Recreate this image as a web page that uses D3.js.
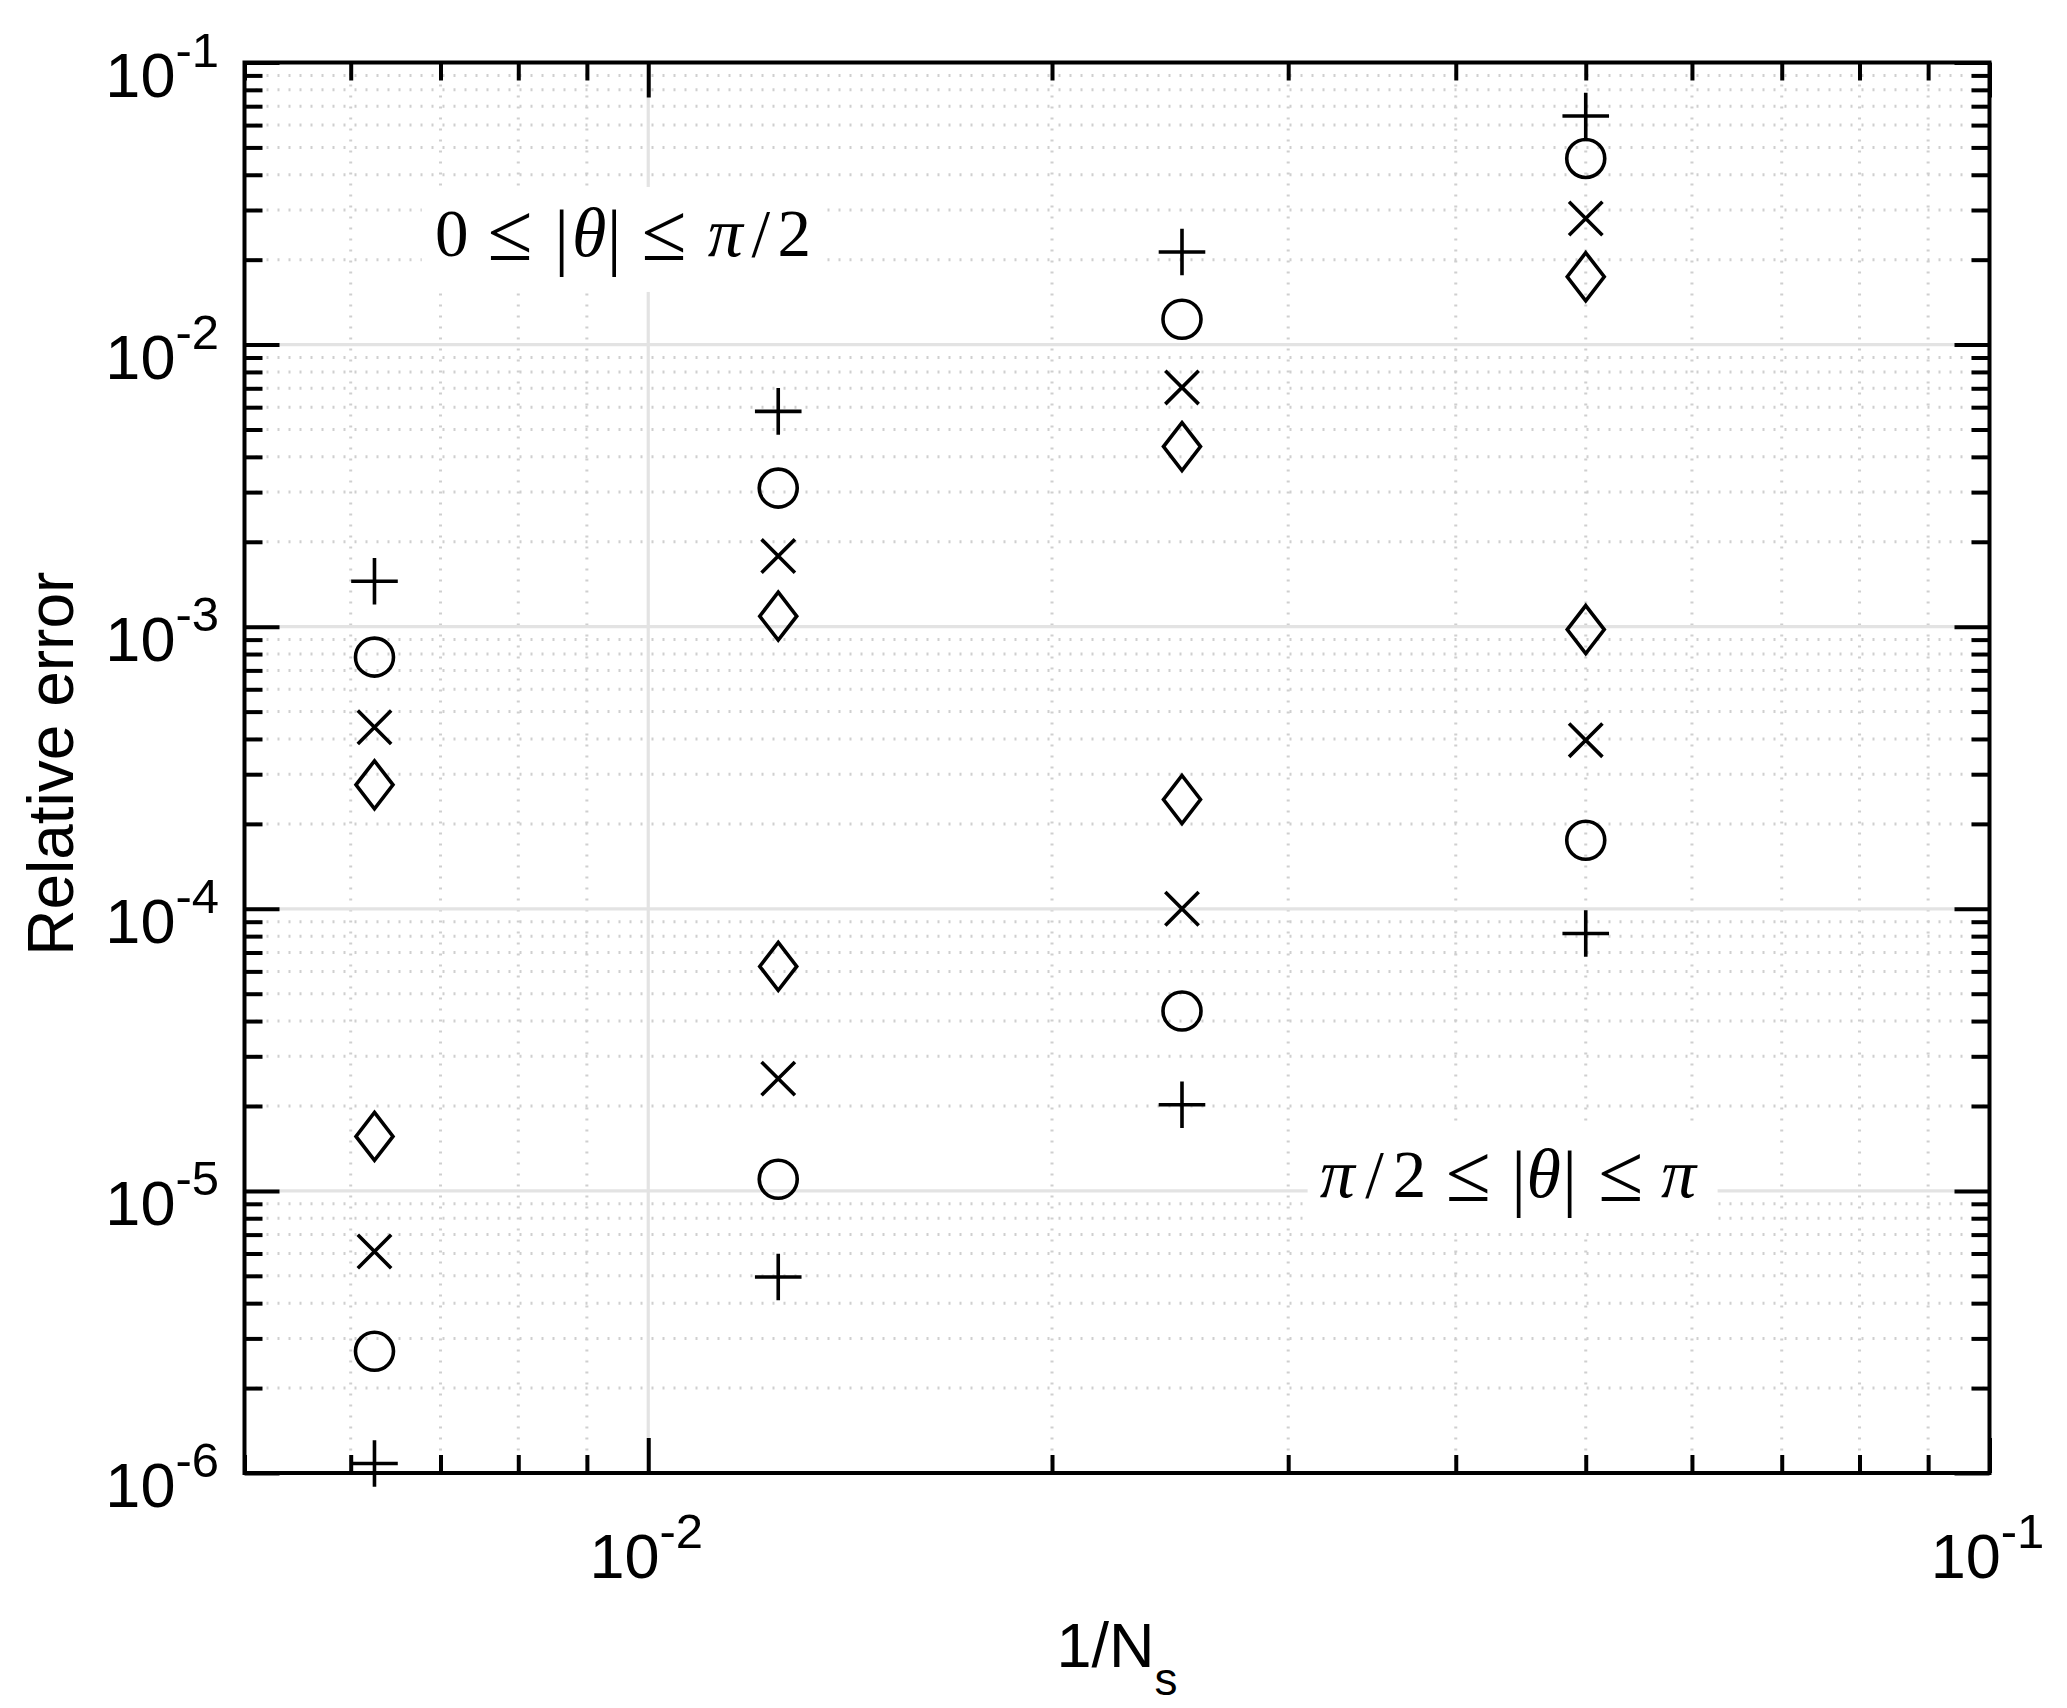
<!DOCTYPE html>
<html>
<head>
<meta charset="utf-8">
<script src="https://cdn.jsdelivr.net/npm/d3@7"></script>
<style>
  html, body { margin: 0; padding: 0; background: #ffffff; }
  svg { display: block; }
</style>
</head>
<body>
<svg id="chart" width="2067" height="1708"></svg>
<script>
// ---------------- DATA ----------------
const Ns = [160, 80, 40, 20];                 // number of samples, x = 1/Ns
// Upper cluster (0 <= |theta| <= pi/2)
const plusUpper    = [1.45e-3, 5.8e-3, 2.13e-2, 6.46e-2];
const circleUpper  = [7.8e-4, 3.1e-3, 1.23e-2, 4.57e-2];
const crossUpper   = [4.4e-4, 1.78e-3, 7.05e-3, 2.80e-2];
const diamondUpper = [2.75e-4, 1.09e-3, 4.35e-3, 1.74e-2];
// Lower cluster (pi/2 <= |theta| <= pi)
const diamondLower = [1.56e-5, 6.25e-5, 2.44e-4, 9.77e-4];
const crossLower   = [6.1e-6, 2.5e-5, 1.0e-4, 3.96e-4];
const circleLower  = [2.7e-6, 1.1e-5, 4.34e-5, 1.75e-4];
const plusLower    = [1.08e-6, 4.95e-6, 2.02e-5, 8.17e-5];

const xDomain = [0.005, 0.1];
const yDomain = [1e-6, 1e-1];
const xMajorExps = [-2, -1];
const yMajorExps = [-6, -5, -4, -3, -2, -1];
const xLabel = "1/N";
const xLabelSub = "s";
const yLabel = "Relative error";
const annotTop = ["0", "≤", "|", "θ", "|", "≤", "π", "/", "2"];
const annotBottom = ["π", "/", "2", "≤", "|", "θ", "|", "≤", "π"];
const annotTopPos = [0.00958, 0.02359];     // data coords of label centre
const annotBottomPos = [0.0441, 1.093e-5];

// ---------------- LAYOUT ----------------
const L = 244.5, R = 1989.5, T = 62.5, B = 1473;
const svg = d3.select("#chart");
svg.append("rect").attr("width", 2067).attr("height", 1708).attr("fill", "#fff");

const x = d3.scaleLog().domain(xDomain).range([L, R]);
const y = d3.scaleLog().domain(yDomain).range([B, T]);

const xMajor = xMajorExps.map(e => Math.pow(10, e));
const yMajor = yMajorExps.map(e => Math.pow(10, e));
const minorOf = (dom) => {
  const out = [];
  for (let e = Math.floor(Math.log10(dom[0])) ; e < Math.ceil(Math.log10(dom[1])); e++) {
    for (let m = 2; m <= 9; m++) {
      const v = m * Math.pow(10, e);
      if (v >= dom[0] * 0.999 && v <= dom[1] * 1.001) out.push(v);
    }
  }
  return out;
};
const xMinor = minorOf(xDomain);
const yMinor = minorOf(yDomain);

// ---------------- GRID ----------------
const grid = svg.append("g");
grid.selectAll(".gxm").data(xMinor).join("line")
  .attr("x1", d => x(d)).attr("x2", d => x(d)).attr("y1", T).attr("y2", B)
  .attr("stroke", "#cfcfcf").attr("stroke-width", 3).attr("stroke-dasharray", "2 9");
grid.selectAll(".gym").data(yMinor).join("line")
  .attr("y1", d => y(d)).attr("y2", d => y(d)).attr("x1", L).attr("x2", R)
  .attr("stroke", "#cfcfcf").attr("stroke-width", 3).attr("stroke-dasharray", "2 9");
grid.selectAll(".gxM").data(xMajor).join("line")
  .attr("x1", d => x(d)).attr("x2", d => x(d)).attr("y1", T).attr("y2", B)
  .attr("stroke", "#e3e3e3").attr("stroke-width", 3.2);
grid.selectAll(".gyM").data(yMajor).join("line")
  .attr("y1", d => y(d)).attr("y2", d => y(d)).attr("x1", L).attr("x2", R)
  .attr("stroke", "#e3e3e3").attr("stroke-width", 3.2);

// ---------------- ANNOTATIONS ----------------
const topOffsets = [-171.5, -113, -61.5, -34, -9, 41, 102, 137.5, 171];
const botOffsets = [-175.3, -138, -103, -44, 6, 31, 57, 108.5, 166];
function annot(glyphs, offsets, pos, boxW) {
  const cx = x(pos[0]), cy = y(pos[1]);
  const g = svg.append("g");
  g.append("rect").attr("x", cx - boxW / 2).attr("y", cy - 52.5)
    .attr("width", boxW).attr("height", 105).attr("fill", "#fff");
  const t = g.append("text")
    .attr("text-anchor", "middle")
    .attr("font-family", "'Liberation Serif', 'DejaVu Serif', serif")
    .attr("font-size", 67)
    .attr("fill", "#000");
  glyphs.forEach((ch, i) => {
    const italic = (ch === "θ" || ch === "π");
    const bar = ch === "|";
    const leq = ch === "≤";
    t.append("tspan")
      .attr("x", cx + offsets[i]).attr("y", cy + 16.5 + (bar ? 5 : 0) + (leq ? 4 : 0))
      .attr("font-size", bar ? 74 : leq ? 82 : italic ? 70 : 67)
      .attr("font-style", italic ? "italic" : "normal")
      .text(ch);
  });
}
annot(annotTop, topOffsets, annotTopPos, 403);
annot(annotBottom, botOffsets, annotBottomPos, 410);

// ---------------- MARKERS ----------------
const SW = 3.6;
const shapes = {
  plus: "M-23.3,0H23.3M0,-23.3V23.3",
  cross: "M-16.7,-16.7L16.7,16.7M-16.7,16.7L16.7,-16.7",
  diamond: "M0,-24L18.5,0L0,24L-18.5,0Z"
};
const series = [
  { vals: plusUpper, type: "plus" }, { vals: circleUpper, type: "circle" },
  { vals: crossUpper, type: "cross" }, { vals: diamondUpper, type: "diamond" },
  { vals: diamondLower, type: "diamond" }, { vals: crossLower, type: "cross" },
  { vals: circleLower, type: "circle" }, { vals: plusLower, type: "plus" }
];
const mk = svg.append("g");
series.forEach(s => {
  const pts = s.vals.map((v, i) => ({ x: 1 / Ns[i], y: v }));
  if (s.type === "circle") {
    mk.append("g").selectAll("circle").data(pts).join("circle")
      .attr("cx", d => x(d.x)).attr("cy", d => y(d.y)).attr("r", 19)
      .attr("fill", "none").attr("stroke", "#000").attr("stroke-width", SW);
  } else {
    mk.append("g").selectAll("path").data(pts).join("path")
      .attr("transform", d => `translate(${x(d.x)},${y(d.y)})`)
      .attr("d", shapes[s.type])
      .attr("fill", "none").attr("stroke", "#000").attr("stroke-width", SW)
      .attr("stroke-linejoin", "miter");
  }
});

// ---------------- AXES (ticks on all four sides, inward) ----------------
function styleAxis(g) {
  g.select(".domain").remove();
  g.selectAll(".tick line").attr("stroke", "#000").attr("stroke-width", 4);
  g.selectAll(".tick text").remove();
}
const MAJ = 35, MIN = 18;
svg.append("g").attr("transform", `translate(0,${B})`)
  .call(d3.axisBottom(x).tickValues(xMajor).tickSize(-MAJ).tickFormat("")).call(styleAxis);
svg.append("g").attr("transform", `translate(0,${B})`)
  .call(d3.axisBottom(x).tickValues(xMinor).tickSize(-MIN).tickFormat("")).call(styleAxis);
svg.append("g").attr("transform", `translate(0,${T})`)
  .call(d3.axisTop(x).tickValues(xMajor).tickSize(-MAJ).tickFormat("")).call(styleAxis);
svg.append("g").attr("transform", `translate(0,${T})`)
  .call(d3.axisTop(x).tickValues(xMinor).tickSize(-MIN).tickFormat("")).call(styleAxis);
svg.append("g").attr("transform", `translate(${L},0)`)
  .call(d3.axisLeft(y).tickValues(yMajor).tickSize(-MAJ).tickFormat("")).call(styleAxis);
svg.append("g").attr("transform", `translate(${L},0)`)
  .call(d3.axisLeft(y).tickValues(yMinor).tickSize(-MIN).tickFormat("")).call(styleAxis);
svg.append("g").attr("transform", `translate(${R},0)`)
  .call(d3.axisRight(y).tickValues(yMajor).tickSize(-MAJ).tickFormat("")).call(styleAxis);
svg.append("g").attr("transform", `translate(${R},0)`)
  .call(d3.axisRight(y).tickValues(yMinor).tickSize(-MIN).tickFormat("")).call(styleAxis);

svg.append("rect").attr("x", L).attr("y", T).attr("width", R - L).attr("height", B - T)
  .attr("fill", "none").attr("stroke", "#000").attr("stroke-width", 4);

// ---------------- TICK LABELS ----------------
const FONT = "'Liberation Sans', Arial, sans-serif";
const yl = svg.append("g").attr("font-family", FONT).attr("fill", "#000");
yMajorExps.forEach(e => {
  const t = yl.append("text").attr("x", 219).attr("y", y(Math.pow(10, e)) + 34)
    .attr("text-anchor", "end").attr("font-size", 63);
  t.append("tspan").text("10");
  t.append("tspan").attr("font-size", 49).attr("dy", -30).text("-" + Math.abs(e));
});
const xl = svg.append("g").attr("font-family", FONT).attr("fill", "#000");
xMajorExps.forEach(e => {
  const t = xl.append("text").attr("x", x(Math.pow(10, e)) - 2).attr("y", 1578)
    .attr("text-anchor", "middle").attr("font-size", 63);
  t.append("tspan").text("10");
  t.append("tspan").attr("font-size", 49).attr("dy", -30).text("-" + Math.abs(e));
});

// ---------------- AXIS LABELS ----------------
const xt = svg.append("text").attr("x", (L + R) / 2).attr("y", 1667)
  .attr("text-anchor", "middle").attr("font-family", FONT).attr("font-size", 63).attr("fill", "#000");
xt.append("tspan").text(xLabel);
xt.append("tspan").attr("font-size", 46).attr("dy", 28).text(xLabelSub);

svg.append("text")
  .attr("transform", `translate(73,${(T + B) / 2 - 4}) rotate(-90)`)
  .attr("text-anchor", "middle").attr("font-family", FONT).attr("font-size", 64).attr("fill", "#000")
  .text(yLabel);
</script>
</body>
</html>
